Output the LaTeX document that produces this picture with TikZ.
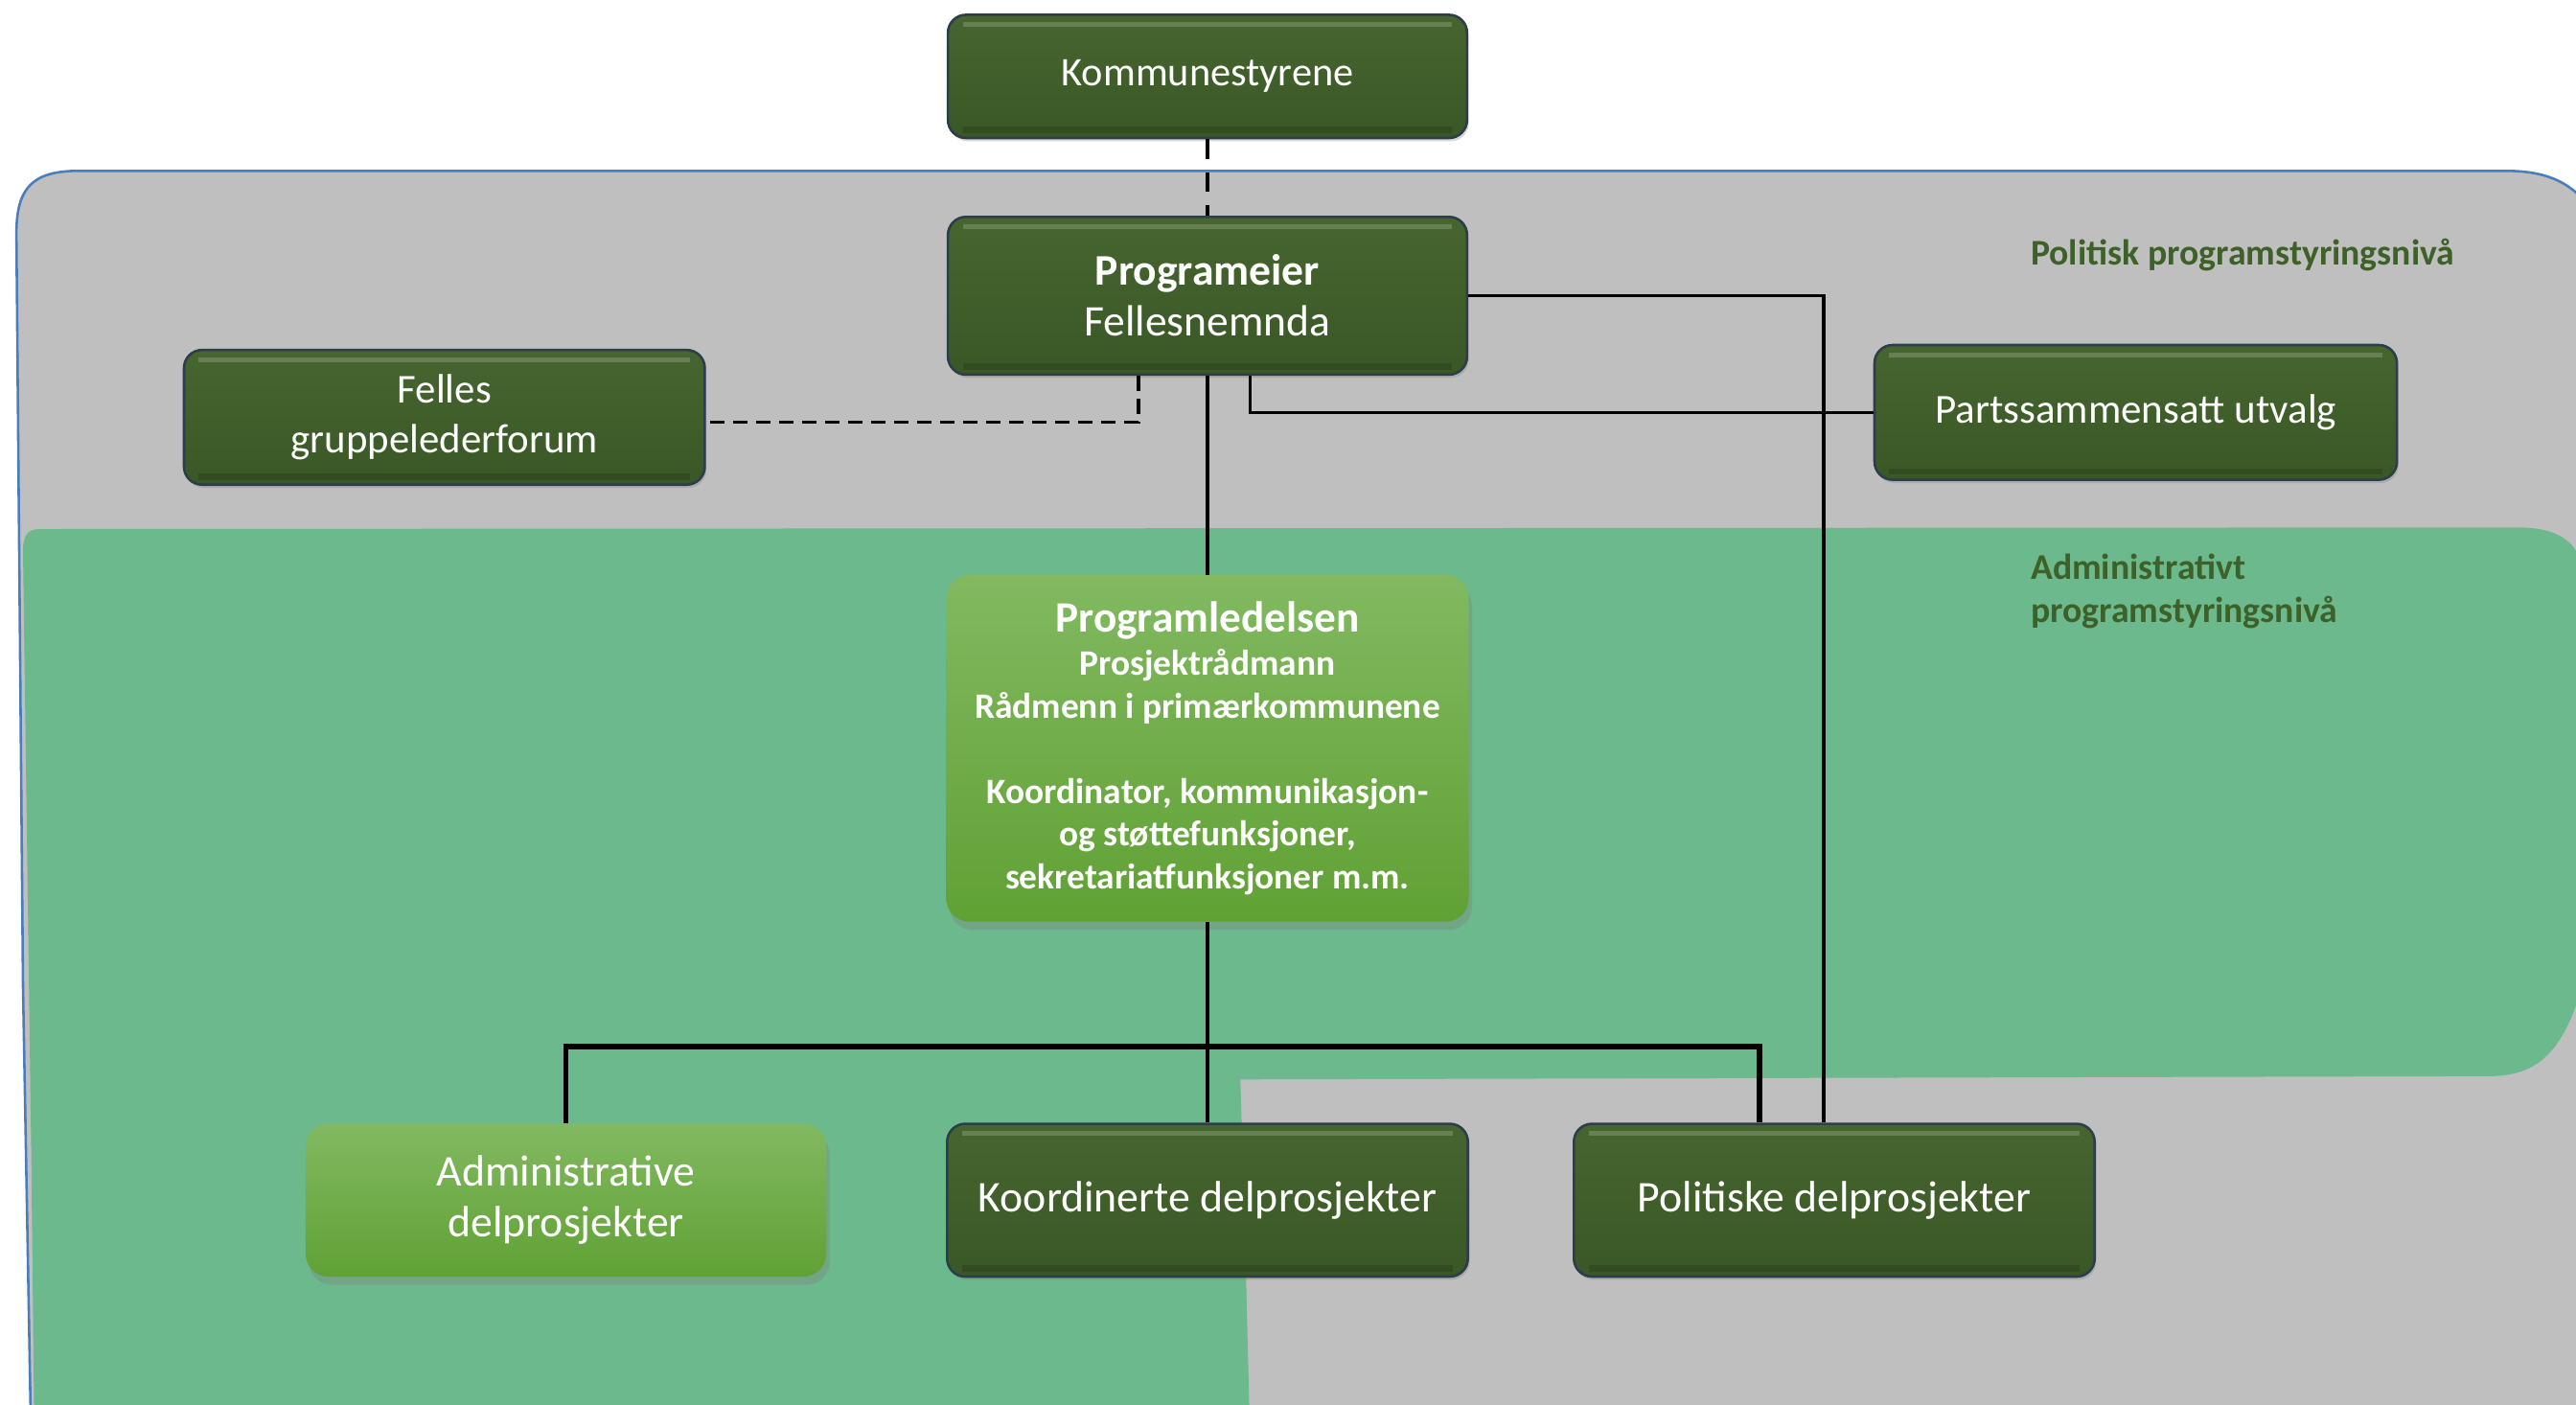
\documentclass[tikz,border=0pt]{standalone}
\usepackage{fontspec}
\setmainfont{Carlito}
\usetikzlibrary{shadows,calc}
\definecolor{dktop}{HTML}{46652F}
\definecolor{dkbot}{HTML}{3A5826}
\definecolor{dkborder}{HTML}{2C3E4C}
\definecolor{lgtop}{HTML}{82B961}
\definecolor{lgbot}{HTML}{60A134}
\definecolor{polgray}{HTML}{BFBFBF}
\definecolor{polblue}{HTML}{4A7EBB}
\definecolor{admgreen}{HTML}{6BB98C}
\definecolor{lvltext}{HTML}{3D6128}
\begin{document}
\begin{tikzpicture}[x=1pt,y=-1pt,
  darkbox/.style={rounded corners=11pt, top color=dktop, bottom color=dkbot,
    draw=dkborder, line width=1.5pt, text=white, align=center, inner sep=0pt,
    font=\fontsize{24.7}{30}\selectfont,
    drop shadow={shadow xshift=1pt, shadow yshift=-2pt, opacity=0.3},
    path picture={\draw[line width=3pt, white, opacity=0.18]
      ([xshift=9pt,yshift=-6pt]path picture bounding box.north west) --
      ([xshift=-9pt,yshift=-6pt]path picture bounding box.north east);
      \draw[line width=4pt, black, opacity=0.15]
      ([xshift=9pt,yshift=5pt]path picture bounding box.south west) --
      ([xshift=-9pt,yshift=5pt]path picture bounding box.south east);}},
  lightbox/.style={rounded corners=14pt, top color=lgtop, bottom color=lgbot,
    draw=none, text=white, align=center, inner sep=0pt,
    font=\fontsize{26.7}{31}\selectfont,
    drop shadow={shadow xshift=2pt, shadow yshift=-5pt, opacity=0.35}},
  lvl/.style={text=lvltext, font=\fontsize{22}{26}\selectfont\bfseries, align=left, inner sep=0pt},
  conn/.style={line width=2pt, black},
  dconn/.style={line width=2pt, black, dash pattern=on 9pt off 5pt}
]
\useasboundingbox (0,0) rectangle (1568,855);
\fill[white] (0,0) rectangle (1568,855);
% political level background
\filldraw[fill=polgray, draw=polblue, line width=1.5pt]
  (10,142) .. controls (10,114) and (20,104) .. (48,104) -- (1525,104)
  .. controls (1552,104) and (1566,112) .. (1578,128) -- (1578,880) -- (19,880) -- (14,600) -- cycle;
% administrative level background
\fill[admgreen]
  (24,322) -- (1532,321) .. controls (1560,321) and (1572,332) .. (1572,352)
  -- (1572,600) .. controls (1560,640) and (1545,655) .. (1515,655)
  -- (755,657) -- (758,760) -- (761,880) -- (21,880) -- (19,700) -- (14,335)
  .. controls (14,326) and (17,322) .. (24,322) -- cycle;
% level labels
\node[lvl, anchor=west] (lpol) at (1236,155) {Politisk programstyringsnivå};
\node[lvl, anchor=north west] (ladm) at (1236,337) {Administrativt\\programstyringsnivå};
% nodes
\node[darkbox, minimum width=316pt, minimum height=75pt] (komm) at (735,46.5) {Kommunestyrene};
\node[darkbox, minimum width=316pt, minimum height=96pt, font=\fontsize{26.6}{31}\selectfont] (prog) at (735,180)
  {{\bfseries Programeier}\\Fellesnemnda};
\node[darkbox, minimum width=317pt, minimum height=82pt, font=\fontsize{25}{30}\selectfont] (felles) at (270.5,254)
  {Felles\\gruppelederforum};
\node[darkbox, minimum width=318pt, minimum height=82pt, font=\fontsize{25.1}{30}\selectfont] (parts) at (1300,251)
  {Partssammensatt utvalg};
\node[lightbox, minimum width=318pt, minimum height=211pt, font=\fontsize{21.8}{26}\selectfont\bfseries] (led) at (735,455.5)
  {{\fontsize{26.4}{30}\selectfont Programledelsen}\\
   Prosjektrådmann\\
   Rådmenn i primærkommunene\\[26pt]
   Koordinator, kommunikasjon-\\
   og støttefunksjoner,\\
   sekretariatfunksjoner m.m.};
\node[lightbox, minimum width=317pt, minimum height=93pt] (adm) at (344.5,730.5)
  {Administrative\\delprosjekter};
\node[darkbox, minimum width=317pt, minimum height=93pt, font=\fontsize{26.7}{31}\selectfont] (koord) at (735,730.5)
  {Koordinerte delprosjekter};
\node[darkbox, minimum width=317pt, minimum height=93pt, font=\fontsize{26.7}{31}\selectfont] (polit) at (1116.5,730.5)
  {Politiske delprosjekter};
% connectors
\coordinate (bus) at (735,637);
\draw[dconn, dash pattern=on 12pt off 8pt] (komm.south) -- (prog.north);
\draw[conn] (prog.east) -| ([xshift=-6.5pt]polit.north);
\draw[conn] ([xshift=26pt]prog.south) |- (parts.west);
\draw[dconn] ([xshift=-42pt]prog.south) |- ([yshift=-3pt]felles.east);
\draw[conn] (prog.south) -- (led.north);
\draw[conn] (led.south) -- (koord.north);
\draw[line width=3pt] (adm.north) |- (bus) -| ([xshift=-45.5pt]polit.north);
\end{tikzpicture}
\end{document}
